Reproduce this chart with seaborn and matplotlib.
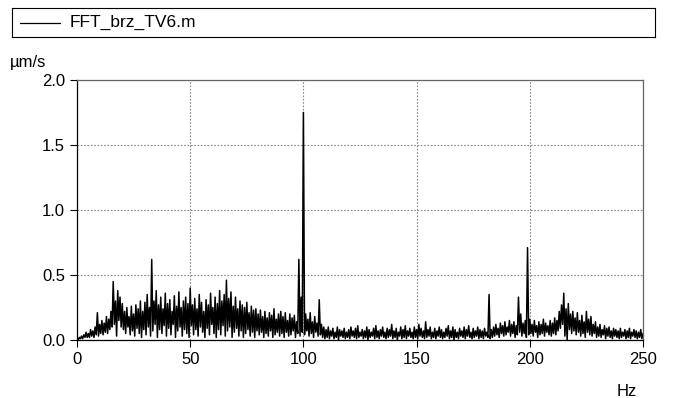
import numpy as np
import pandas as pd
import matplotlib
matplotlib.use("Agg")
import matplotlib.pyplot as plt
import seaborn as sns

# FFT amplitude (µm/s): local maxima at whole Hz,
# local minima at the half Hz in between
picos = [
    0.00, 0.02, 0.03, 0.04, 0.06, 0.05, 0.08, 0.07, 0.10, 0.21,
    0.12, 0.15, 0.13, 0.18, 0.16, 0.22, 0.45, 0.30, 0.38, 0.33,
    0.28, 0.22, 0.25, 0.18, 0.26, 0.20, 0.27, 0.24, 0.30, 0.22,
    0.29, 0.35, 0.25, 0.62, 0.30, 0.38, 0.27, 0.33, 0.24, 0.36,
    0.28, 0.31, 0.22, 0.34, 0.26, 0.37, 0.25, 0.30, 0.33, 0.28,
    0.40, 0.27, 0.32, 0.24, 0.35, 0.29, 0.22, 0.31, 0.27, 0.36,
    0.25, 0.33, 0.28, 0.38, 0.30, 0.35, 0.46, 0.32, 0.37, 0.26,
    0.33, 0.24, 0.30, 0.27, 0.25, 0.29, 0.21, 0.26, 0.23, 0.24,
    0.20, 0.23, 0.18, 0.22, 0.17, 0.21, 0.19, 0.24, 0.16, 0.20,
    0.22, 0.18, 0.21, 0.15, 0.20, 0.17, 0.19, 0.14, 0.62, 0.33,
    1.75, 0.20, 0.16, 0.21, 0.14, 0.18, 0.13, 0.31, 0.12, 0.10,
    0.08, 0.10, 0.07, 0.09, 0.06, 0.10, 0.08, 0.07, 0.09, 0.06,
    0.08, 0.10, 0.07, 0.09, 0.11, 0.06, 0.08, 0.07, 0.10, 0.08,
    0.06, 0.09, 0.11, 0.07, 0.08, 0.10, 0.06, 0.09, 0.08, 0.12,
    0.07, 0.09, 0.06, 0.10, 0.08, 0.11, 0.07, 0.09, 0.06, 0.10,
    0.08, 0.12, 0.09, 0.07, 0.14, 0.08, 0.10, 0.06, 0.09, 0.07,
    0.10, 0.08, 0.06, 0.09, 0.11, 0.07, 0.10, 0.08, 0.06, 0.09,
    0.07, 0.10, 0.08, 0.11, 0.06, 0.09, 0.07, 0.10, 0.08, 0.07,
    0.09, 0.06, 0.35, 0.08, 0.10, 0.12, 0.09, 0.13, 0.11, 0.14,
    0.10, 0.15, 0.12, 0.14, 0.11, 0.33, 0.20, 0.13, 0.15, 0.71,
    0.16, 0.12, 0.15, 0.11, 0.14, 0.12, 0.16, 0.13, 0.11, 0.15,
    0.13, 0.17, 0.15, 0.22, 0.27, 0.36, 0.24, 0.28, 0.20, 0.22,
    0.17, 0.21, 0.15, 0.19, 0.14, 0.22, 0.16, 0.18, 0.12, 0.14,
    0.10, 0.12, 0.08, 0.11, 0.09, 0.10, 0.07, 0.09, 0.08, 0.07,
    0.09, 0.06, 0.08, 0.07, 0.09, 0.06, 0.08, 0.07, 0.06, 0.08,
    0.05,
]
valles = [
    0.00, 0.01, 0.01, 0.02, 0.02, 0.02, 0.03, 0.02, 0.04, 0.03,
    0.05, 0.04, 0.06, 0.05, 0.08, 0.10, 0.12, 0.03, 0.15, 0.10,
    0.08, 0.05, 0.10, 0.04, 0.07, 0.03, 0.09, 0.05, 0.02, 0.08,
    0.04, 0.10, 0.03, 0.07, 0.12, 0.02, 0.08, 0.05, 0.11, 0.03,
    0.09, 0.04, 0.12, 0.02, 0.07, 0.10, 0.03, 0.08, 0.05, 0.02,
    0.11, 0.04, 0.08, 0.03, 0.10, 0.06, 0.02, 0.09, 0.04, 0.12,
    0.05, 0.02, 0.08, 0.04, 0.11, 0.03, 0.07, 0.10, 0.02, 0.06,
    0.09, 0.03, 0.07, 0.02, 0.05, 0.08, 0.03, 0.06, 0.02, 0.07,
    0.04, 0.06, 0.02, 0.05, 0.03, 0.07, 0.02, 0.04, 0.06, 0.03,
    0.05, 0.02, 0.06, 0.03, 0.04, 0.07, 0.02, 0.05, 0.03, 0.06,
    0.04, 0.07, 0.03, 0.05, 0.02, 0.06, 0.03, 0.04, 0.02, 0.01,
    0.02, 0.01, 0.03, 0.01, 0.02, 0.00, 0.03, 0.02, 0.01, 0.02,
    0.01, 0.03, 0.02, 0.01, 0.02, 0.03, 0.01, 0.02, 0.00, 0.02,
    0.03, 0.01, 0.02, 0.01, 0.03, 0.02, 0.01, 0.02, 0.03, 0.01,
    0.02, 0.00, 0.03, 0.01, 0.02, 0.01, 0.03, 0.02, 0.01, 0.02,
    0.01, 0.03, 0.02, 0.01, 0.02, 0.03, 0.01, 0.02, 0.01, 0.03,
    0.02, 0.01, 0.02, 0.03, 0.01, 0.02, 0.00, 0.02, 0.01, 0.03,
    0.02, 0.01, 0.03, 0.02, 0.01, 0.02, 0.03, 0.01, 0.02, 0.01,
    0.03, 0.02, 0.01, 0.02, 0.03, 0.04, 0.02, 0.05, 0.03, 0.04,
    0.06, 0.03, 0.05, 0.02, 0.04, 0.06, 0.03, 0.05, 0.02, 0.04,
    0.05, 0.03, 0.06, 0.02, 0.04, 0.05, 0.03, 0.06, 0.04, 0.03,
    0.05, 0.04, 0.07, 0.09, 0.12, 0.03, 0.00, 0.08, 0.05, 0.07,
    0.04, 0.06, 0.03, 0.05, 0.02, 0.06, 0.04, 0.03, 0.05, 0.02,
    0.03, 0.02, 0.04, 0.01, 0.03, 0.02, 0.01, 0.03, 0.02, 0.01,
    0.02, 0.03, 0.01, 0.02, 0.01, 0.03, 0.02, 0.01, 0.02, 0.01,
]

xticks = [0, 50, 100, 150, 200, 250]
yticks = [0.0, 0.5, 1.0, 1.5, 2.0]
nombre_serie = "FFT_brz_TV6.m"

# juntar picos y valles en una sola serie (paso de 0.5 Hz)
amp = []
for i in range(len(valles)):
    amp.append(picos[i])
    amp.append(valles[i])
amp.append(picos[-1])
df = pd.DataFrame({"Hz": np.arange(len(amp)) * 0.5, "amp": amp})

sns.set_style("white")
plt.rcParams["font.family"] = ["Liberation Sans", "DejaVu Sans"]
plt.rcParams["text.color"] = "black"
plt.rcParams["xtick.color"] = "black"
plt.rcParams["ytick.color"] = "black"

fig = plt.figure(figsize=(6.73, 3.98), dpi=100)
W, H = 673, 398

# caja de la leyenda arriba
ax_leg = fig.add_axes([12 / W, 1 - 37 / H, 643 / W, 29 / H])
ax_leg.set_xlim(0, 643)
ax_leg.set_ylim(0, 29)
ax_leg.set_xticks([])
ax_leg.set_yticks([])
for s in ax_leg.spines.values():
    s.set_color("black")
    s.set_linewidth(0.8)
ax_leg.plot([8, 48], [14.5, 14.5], color="black", lw=0.9)
ax_leg.text(58, 14.5, nombre_serie, fontsize=12.5, va="center", ha="left")

# grafico principal
ax = fig.add_axes([77 / W, 1 - 340 / H, 566 / W, 260 / H])
sns.lineplot(data=df, x="Hz", y="amp", ax=ax, color="black", lw=1.1,
             estimator=None, sort=False)
ax.set_xlim(0, 250)
ax.set_ylim(0, 2.0)
ax.set_xticks(xticks)
ax.set_yticks(yticks)
ax.set_yticklabels([f"{v:.1f}" for v in yticks])
ax.set_xlabel("")
ax.set_ylabel("")
ax.tick_params(axis="both", labelsize=12, length=5, width=0.8,
               color="black", labelcolor="black", direction="out",
               left=True, bottom=True)
ax.grid(True, color="#888888", linestyle=(0, (1.5, 1.5)), lw=0.8)
ax.spines["left"].set_color("black")
ax.spines["bottom"].set_color("black")
ax.spines["top"].set_color("#666666")
ax.spines["right"].set_color("#666666")
for s in ax.spines.values():
    s.set_linewidth(0.9)

fig.text(10 / W, 1 - 63 / H, "µm/s", fontsize=12, va="center", ha="left")
fig.text(637 / W, 1 - 391 / H, "Hz", fontsize=12, va="center", ha="right")

fig.savefig("out.png", dpi=100)
